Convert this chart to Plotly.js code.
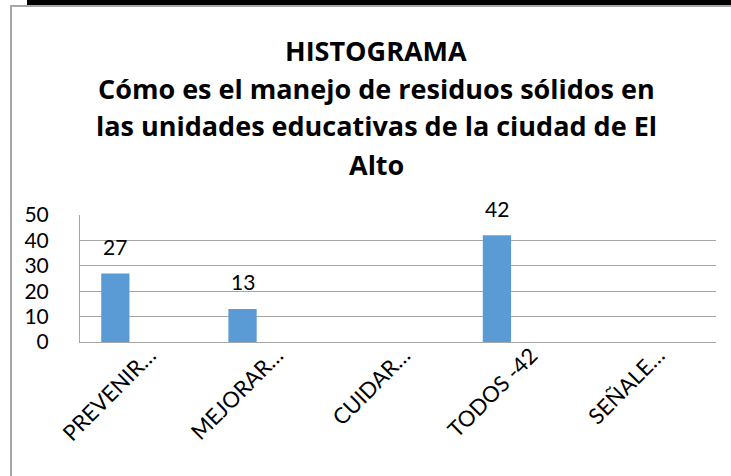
<!DOCTYPE html>
<html>
<head>
<meta charset="utf-8">
<script src="https://cdn.plot.ly/plotly-3.0.1.min.js"></script>
<style>
  html, body { margin: 0; padding: 0; background: #ffffff; }
  #chart { width: 731px; height: 476px; }
</style>
</head>
<body>
<div id="chart"></div>
<script>
const categories = ["PREVENIR…", "MEJORAR…", "CUIDAR…", "TODOS -42", "SEÑALE…"];
const values = [27, 13, 0, 42, 0];
const dataLabels = ["27", "13", "", "42", ""];
const titleLines = [
  "HISTOGRAMA",
  "Cómo es el manejo de residuos sólidos en",
  "las unidades educativas de la ciudad de El",
  "Alto"
];
const yTicks = [0, 10, 20, 30, 40, 50];

const FONT = "Lato, 'Open Sans', sans-serif";
const TFONT = "'Open Sans', Lato, sans-serif";

// plot area in pixels: x 80..716, y 215..342
const L = 80, R = 716, T = 215, B = 342;
const px2x = p => (p - L) / (R - L);
const px2y = p => (B - p) / (B - T);

const barTrace = {
  type: "bar",
  x: categories,
  y: values,
  width: 0.2222,
  offset: -0.3333,
  marker: { color: "#5B9BD5", line: { width: 0 } },
  hoverinfo: "x+y"
};

const annotations = [];
values.forEach((v, i) => {
  if (dataLabels[i] !== "") {
    annotations.push({
      x: i - 0.2222, y: v, xref: "x", yref: "y",
      text: dataLabels[i], showarrow: false,
      xanchor: "center", yanchor: "middle", yshift: 27,
      font: { family: FONT, size: 21, color: "#000000" }
    });
  }
});
const titleY = [50, 88, 126, 164];
titleLines.forEach((t, i) => {
  annotations.push({
    x: px2x(376), y: px2y(titleY[i]), xref: "paper", yref: "paper",
    text: "<b>" + t + "</b>", showarrow: false,
    xanchor: "center", yanchor: "middle",
    font: { family: TFONT, size: 27, color: "#000000" }
  });
});

const shapes = [
  // outer gray frame
  { type: "rect", xref: "paper", yref: "paper",
    x0: px2x(11), x1: px2x(760), y0: px2y(6), y1: px2y(500),
    line: { color: "#A6A6A6", width: 2 }, fillcolor: "rgba(0,0,0,0)", layer: "below" },
  // black band at top
  { type: "rect", xref: "paper", yref: "paper",
    x0: px2x(27), x1: px2x(740), y0: px2y(5), y1: px2y(-2),
    line: { width: 0 }, fillcolor: "#000000" }
];

const layout = {
  width: 731, height: 476,
  margin: { l: L, r: 731 - R, t: T, b: 476 - B, pad: 0 },
  paper_bgcolor: "#ffffff", plot_bgcolor: "#ffffff",
  showlegend: false,
  xaxis: {
    type: "category",
    tickangle: -45,
    tickfont: { family: FONT, size: 22, color: "#000000" },
    showgrid: false, zeroline: false,
    showline: true, linecolor: "#A6A6A6", linewidth: 1,
    ticks: "", automargin: false,
    ticklabelstandoff: -9, ticklabelshift: 6
  },
  yaxis: {
    range: [0, 50],
    tickvals: yTicks,
    tickfont: { family: FONT, size: 21, color: "#000000" },
    showgrid: true, gridcolor: "#A6A6A6", gridwidth: 1,
    zeroline: false,
    showline: true, linecolor: "#A6A6A6", linewidth: 1,
    ticks: "", ticklabelstandoff: 26, automargin: false
  },
  annotations: annotations,
  shapes: shapes
};

Plotly.newPlot("chart", [barTrace], layout, { displayModeBar: false, staticPlot: true });
</script>
</body>
</html>
